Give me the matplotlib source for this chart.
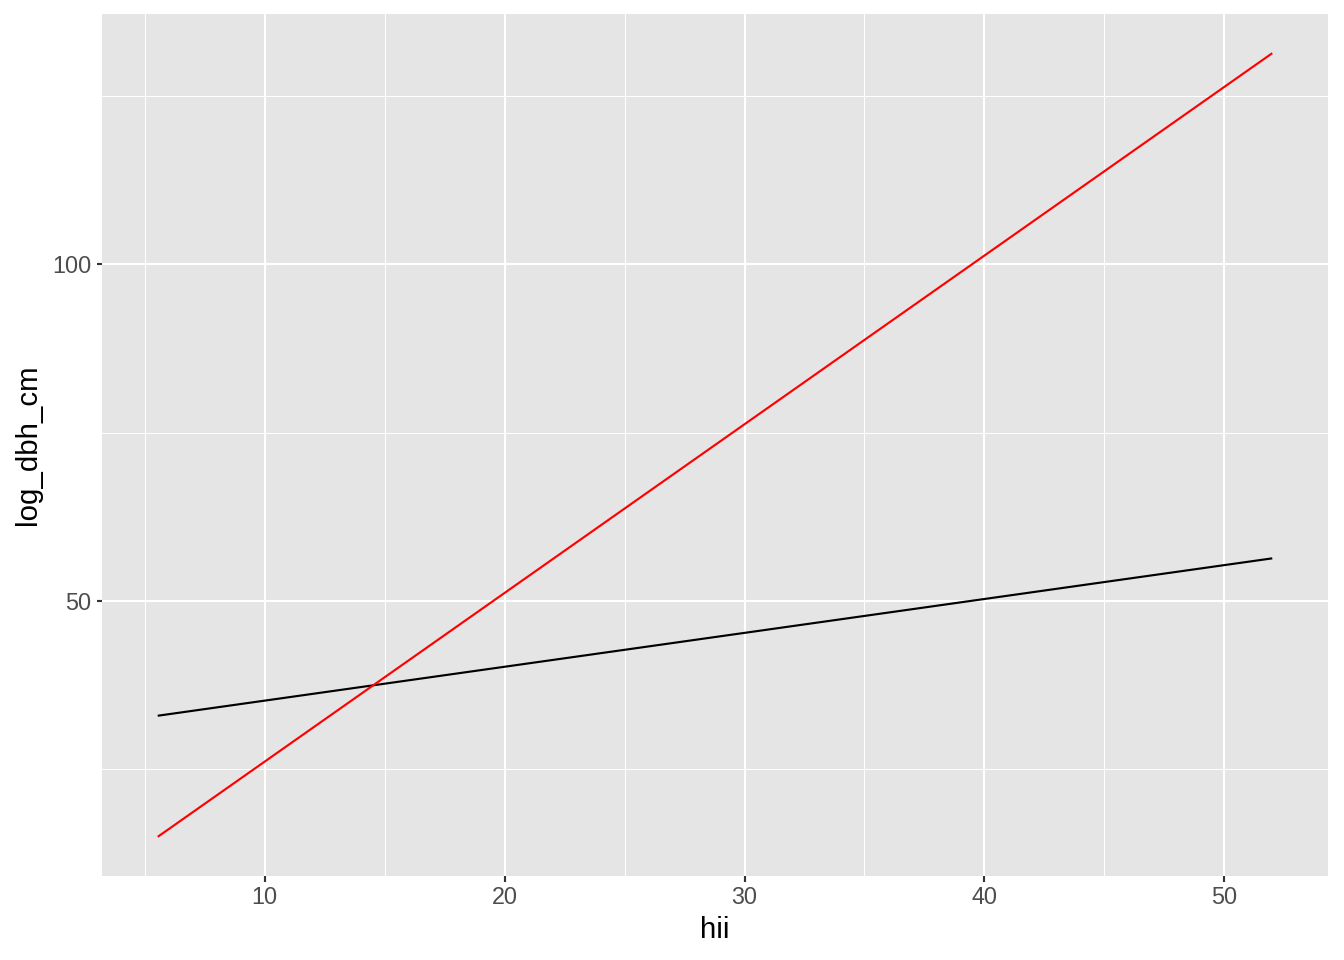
import matplotlib
matplotlib.use("Agg")
import matplotlib.pyplot as plt

hii = [5.54, 52.0]
red_line = [14.9, 131.4]
black_line = [32.9, 56.3]
x_ticks = [10, 20, 30, 40, 50]
x_minor = [5, 15, 25, 35, 45]
y_ticks = [50, 100]
y_minor = [25, 75, 125]

plt.rcParams['font.family'] = ['Liberation Sans', 'DejaVu Sans']
fig = plt.figure(figsize=(1344/144, 960/144), dpi=144)
ax = fig.add_axes([102/1344, 1-876/960, (1328-102)/1344, (876-14)/960])
ax.set_facecolor('#E5E5E5')
for s in ax.spines.values():
    s.set_visible(False)

for v in x_minor:
    ax.axvline(v, color='white', lw=0.53, zorder=0)
for v in y_minor:
    ax.axhline(v, color='white', lw=0.53, zorder=0)
for v in x_ticks:
    ax.axvline(v, color='white', lw=1.07, zorder=0)
for v in y_ticks:
    ax.axhline(v, color='white', lw=1.07, zorder=0)

ax.plot(hii, black_line, color='black', lw=1.07, zorder=2, solid_capstyle='butt')
ax.plot(hii, red_line, color='red', lw=1.07, zorder=2, solid_capstyle='butt')

xr = hii[1] - hii[0]
ax.set_xlim(hii[0] - 0.05*xr, hii[1] + 0.05*xr)
ymin = min(red_line + black_line); ymax = max(red_line + black_line)
yr = ymax - ymin
ax.set_ylim(ymin - 0.05*yr, ymax + 0.05*yr)

ax.set_xticks(x_ticks)
ax.set_yticks(y_ticks)
ax.tick_params(axis='both', length=2.75, width=1.07, color='#333333',
               labelcolor='#4D4D4D', labelsize=11.7, pad=2.5)
ax.set_xlabel('hii', fontsize=14.7, color='black', labelpad=3)
ax.set_ylabel('log_dbh_cm', fontsize=14.7, color='black', labelpad=5)

fig.savefig('out.png', dpi=144, facecolor='white')
